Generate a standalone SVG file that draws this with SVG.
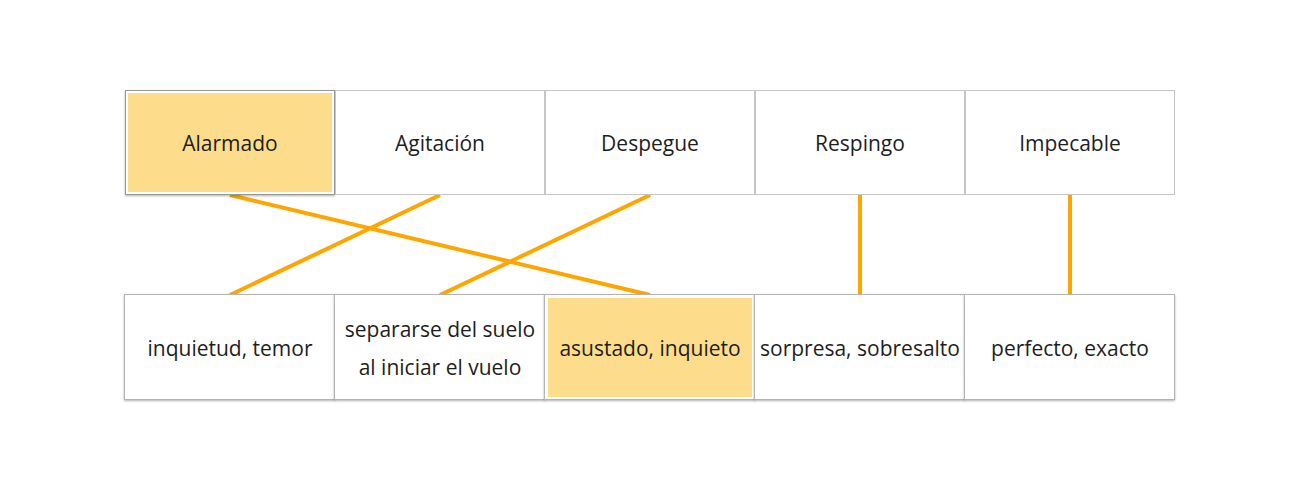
<svg xmlns="http://www.w3.org/2000/svg" width="1299" height="499" viewBox="0 0 1299 499">
<defs>
<style>
.box{fill:#fff;stroke:#c6c6c6;stroke-width:1}
.boxb{fill:#fff;stroke:#b4b4b4;stroke-width:1}
.sel{fill:#fddd8c}
.t{font-family:"Open Sans","Noto Sans","DejaVu Sans",sans-serif;font-size:21px;fill:#1e1e1e;text-anchor:middle;dominant-baseline:central}
.c{stroke:#ffa500;stroke-width:4;fill:none}
</style>
<filter id="sh" x="-5%" y="-5%" width="110%" height="115%">
<feDropShadow dx="0" dy="1" stdDeviation="1" flood-color="#000" flood-opacity="0.3"/>
</filter>
</defs>
<rect width="1299" height="499" fill="#fff"/>
<g id="connectors">
<line class="c" x1="230" y1="195" x2="650" y2="295"/>
<line class="c" x1="440" y1="195" x2="230" y2="295"/>
<line class="c" x1="650" y1="195" x2="440" y2="295"/>
<line class="c" x1="860" y1="195" x2="860" y2="295"/>
<line class="c" x1="1070" y1="195" x2="1070" y2="295"/>
</g>
<g id="top-alarmado">
<rect x="125.5" y="90.5" width="209" height="104" fill="#fff" stroke="#999" filter="url(#sh)"/>
<rect class="sel" x="128" y="93" width="204" height="99"/>
<text class="t" x="230" y="143">Alarmado</text>
</g>
<g id="top-agitacion">
<rect class="box" x="335.5" y="90.5" width="209" height="104"/>
<text class="t" x="440" y="143">Agitación</text>
</g>
<g id="top-despegue">
<rect class="box" x="545.5" y="90.5" width="209" height="104"/>
<text class="t" x="650" y="143">Despegue</text>
</g>
<g id="top-respingo">
<rect class="box" x="755.5" y="90.5" width="209" height="104"/>
<text class="t" x="860" y="143">Respingo</text>
</g>
<g id="top-impecable">
<rect class="box" x="965.5" y="90.5" width="209" height="104"/>
<text class="t" x="1070" y="143">Impecable</text>
</g>
<g id="bot-inquietud">
<rect class="boxb" x="124.5" y="294.5" width="210" height="105" filter="url(#sh)"/>
<text class="t" x="230" y="348">inquietud, temor</text>
</g>
<g id="bot-separarse">
<rect class="boxb" x="334.5" y="294.5" width="210" height="105" filter="url(#sh)"/>
<text class="t" x="440" y="329">separarse del suelo</text>
<text class="t" x="440" y="367">al iniciar el vuelo</text>
</g>
<g id="bot-asustado">
<rect class="boxb" x="544.5" y="294.5" width="210" height="105" filter="url(#sh)"/>
<rect class="sel" x="548" y="298" width="204" height="99"/>
<text class="t" x="650" y="348">asustado, inquieto</text>
</g>
<g id="bot-sorpresa">
<rect class="boxb" x="754.5" y="294.5" width="210" height="105" filter="url(#sh)"/>
<text class="t" x="860" y="348">sorpresa, sobresalto</text>
</g>
<g id="bot-perfecto">
<rect class="boxb" x="964.5" y="294.5" width="210" height="105" filter="url(#sh)"/>
<text class="t" x="1070" y="348">perfecto, exacto</text>
</g>
</svg>
